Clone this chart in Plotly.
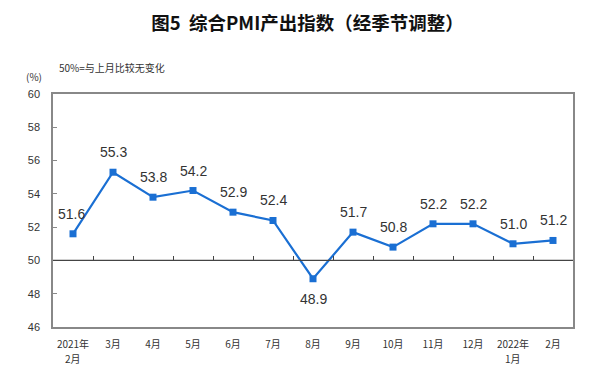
import plotly.graph_objects as go

categories = ["2021年2月", "3月", "4月", "5月", "6月", "7月", "8月", "9月",
              "10月", "11月", "12月", "2022年1月", "2月"]
tick_top = ["2021年", "3月", "4月", "5月", "6月", "7月", "8月", "9月",
            "10月", "11月", "12月", "2022年", "2月"]
tick_bottom = ["2月", "", "", "", "", "", "", "", "", "", "", "1月", ""]
values = [51.6, 55.3, 53.8, 54.2, 52.9, 52.4, 48.9, 51.7, 50.8, 52.2, 52.2, 51.0, 51.2]
label_shift = [20, 20, 20, 20, 20, 20, -20, 20, 20, 20, 20, 20, 20]
label_xshift = [-2, 0, 0, 0, 0, 0, 0, 0, 0, 0, 0, 0, 0]
y_ticks = [46, 48, 50, 52, 54, 56, 58, 60]

line_color = "#1A6FD3"
tick_font = dict(family="Noto Sans CJK SC", size=10, color="#333333")

fig = go.Figure()
fig.add_trace(go.Scatter(
    x=categories, y=values, mode="lines+markers",
    line=dict(color=line_color, width=2.2),
    marker=dict(symbol="square", size=7, color=line_color),
    hoverinfo="skip", showlegend=False,
))

for c, v, s, xs in zip(categories, values, label_shift, label_xshift):
    fig.add_annotation(x=c, y=v, text=f"{v:.1f}", showarrow=False,
                       yshift=s, xshift=xs, yanchor="middle",
                       font=dict(family="Liberation Sans, Arial", size=14, color="#333333"))

for c, t in zip(categories, tick_bottom):
    if t:
        fig.add_annotation(x=c, xref="x", y=0, yref="paper", text=t, showarrow=False,
                           yshift=-31, yanchor="middle", font=tick_font)

# reference line at 50 with ticks between categories
fig.add_shape(type="line", xref="paper", x0=0, x1=1, yref="y", y0=50, y1=50,
              line=dict(color="#444444", width=1.2))

fig.add_trace(go.Scatter(x=categories, y=values, xaxis="x2", mode="none",
                         hoverinfo="skip", showlegend=False))

fig.add_annotation(text="(%)", xref="paper", yref="paper", x=-0.055, y=1.077,
                   showarrow=False, xanchor="left", yanchor="middle",
                   font=dict(family="Noto Sans CJK SC", size=10, color="#333333"))
fig.add_annotation(text="50%=与上月比较无变化", xref="paper", yref="paper", x=0.008, y=1.115,
                   showarrow=False, xanchor="left", yanchor="middle",
                   font=dict(family="Noto Sans CJK SC", size=10, color="#333333"))

fig.update_layout(
    width=599, height=376,
    margin=dict(l=45, r=34, t=86, b=57, autoexpand=False),
    paper_bgcolor="white", plot_bgcolor="white",
    title=dict(text="<b>图5  综合PMI产出指数（经季节调整）</b>", x=0.5, xanchor="center",
               y=0.96, yanchor="middle",
               font=dict(family="Noto Sans CJK SC", size=18.5, color="#111111")),
    xaxis=dict(type="category", showline=True, linecolor="#888888", linewidth=1.5,
               mirror=True, ticks="", showgrid=False, automargin=False,
               tickvals=categories, ticktext=tick_top,
               ticklabelstandoff=7, tickfont=tick_font,
               range=[-0.5, 12.5], fixedrange=True),
    xaxis2=dict(type="category", overlaying="x", anchor="free",
                position=(50 - 46) / 14, showline=False, ticks="inside",
                tickson="boundaries", ticklen=4, tickcolor="#444444",
                showticklabels=False, showgrid=False, range=[-0.5, 12.5]),
    yaxis=dict(range=[46, 60], tickvals=y_ticks, showline=True, linecolor="#888888",
               linewidth=1.5, mirror=True, ticks="inside", ticklen=4, automargin=False,
               tickcolor="#888888", showgrid=False, zeroline=False,
               ticklabelstandoff=9,
               tickfont=dict(family="Liberation Sans, Arial", size=11, color="#333333")),
)

fig.write_html("out.html")
